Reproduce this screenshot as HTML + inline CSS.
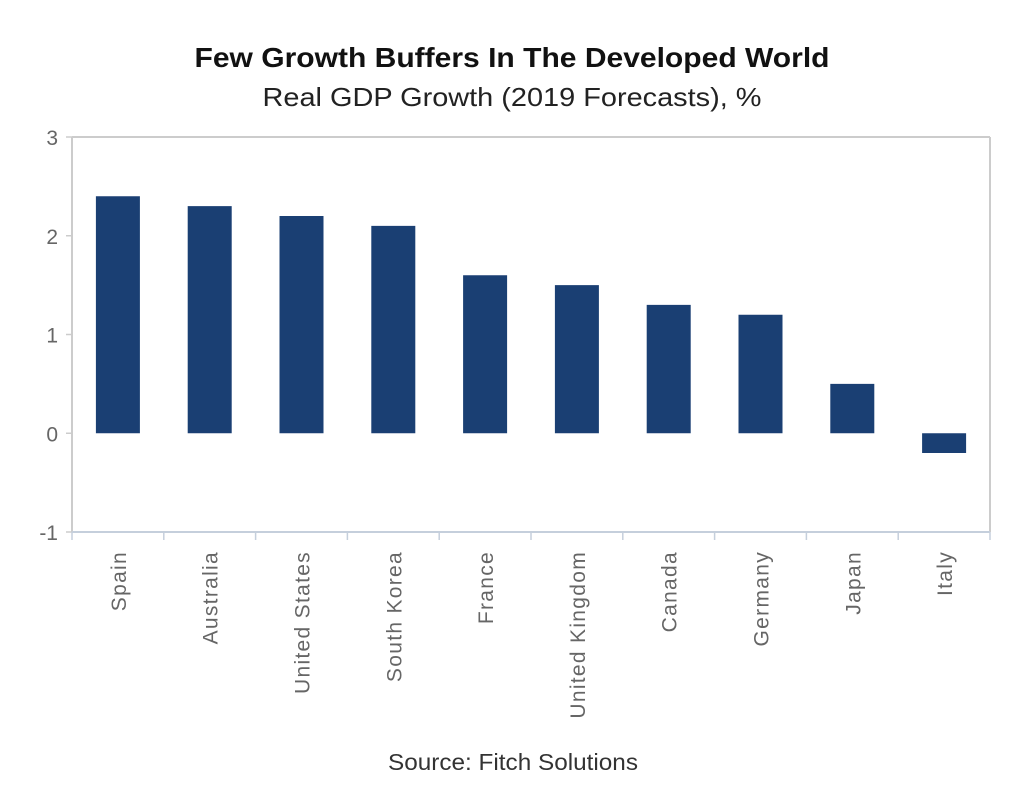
<!DOCTYPE html>
<html><head><meta charset="utf-8"><style>
body{margin:0;background:#fff;width:1024px;height:791px;overflow:hidden;font-family:"Liberation Sans","DejaVu Sans",sans-serif}
</style></head><body>
<svg width="1024" height="791" viewBox="0 0 1024 791">
<text x="512" y="67" text-anchor="middle" font-size="28" font-weight="bold" fill="#111" textLength="635" lengthAdjust="spacingAndGlyphs">Few Growth Buffers In The Developed World</text>
<text x="512" y="106" text-anchor="middle" font-size="26" fill="#222" textLength="499" lengthAdjust="spacingAndGlyphs">Real GDP Growth (2019 Forecasts), %</text>
<text x="513" y="770" text-anchor="middle" font-size="23" fill="#333" textLength="250" lengthAdjust="spacingAndGlyphs">Source: Fitch Solutions</text>
<g id="plot"></g>
</svg>
<script>
const categories=["Spain","Australia","United States","South Korea","France","United Kingdom","Canada","Germany","Japan","Italy"];
const values=[2.4,2.3,2.2,2.1,1.6,1.5,1.3,1.2,0.5,-0.2];
const yTicks=[-1,0,1,2,3];
const L=72,R=990,T=137,B=532,yMin=-1,yMax=3;
const ns="http://www.w3.org/2000/svg";
const g=document.getElementById('plot');
const y=v=>B-(v-yMin)/(yMax-yMin)*(B-T);
const band=(R-L)/categories.length;
const xc=i=>L+band*(i+0.5);
function mk(t,a){const e=document.createElementNS(ns,t);for(const k in a)e.setAttribute(k,a[k]);g.appendChild(e);return e;}
let e;
e=mk('line',{x1:L,y1:T,x2:R,y2:T,stroke:'#ccc','stroke-width':2});


e=mk('line',{x1:R,y1:T,x2:R,y2:B,stroke:'#ccc','stroke-width':2});


e=mk('line',{x1:L,y1:T,x2:L,y2:B,stroke:'#ccc','stroke-width':2});


e=mk('line',{x1:L,y1:B,x2:R,y2:B,stroke:'#c5cfdc','stroke-width':2});


yTicks.forEach(v=>{
 e=mk('line',{x1:L-6,y1:y(v),x2:L,y2:y(v),stroke:'#ccc','stroke-width':1.5});
 
 
 e=mk('text',{x:L-14,y:y(v)+8,'text-anchor':'end','font-size':21,fill:'#666'});
 e.textContent=v;
 
 
});
for(let i=0;i<=categories.length;i++){
 e=mk('line',{x1:L+band*i,y1:B,x2:L+band*i,y2:B+8,stroke:'#c5cfdc','stroke-width':1.5});
 
 
}
categories.forEach((c,i)=>{
 const v=values[i],w=44;
 e=mk('rect',{x:xc(i)-w/2,y:Math.min(y(v),y(0)),width:w,height:Math.abs(y(v)-y(0)),fill:'#1a3f73'});
 
 
 e=mk('text',{x:0,y:0,'text-anchor':'end','font-size':21,'letter-spacing':1.3,fill:'#666',transform:`translate(${xc(i)+8},551) rotate(-90)`});
 e.textContent=c;
 
 
});
</script>
</body></html>
